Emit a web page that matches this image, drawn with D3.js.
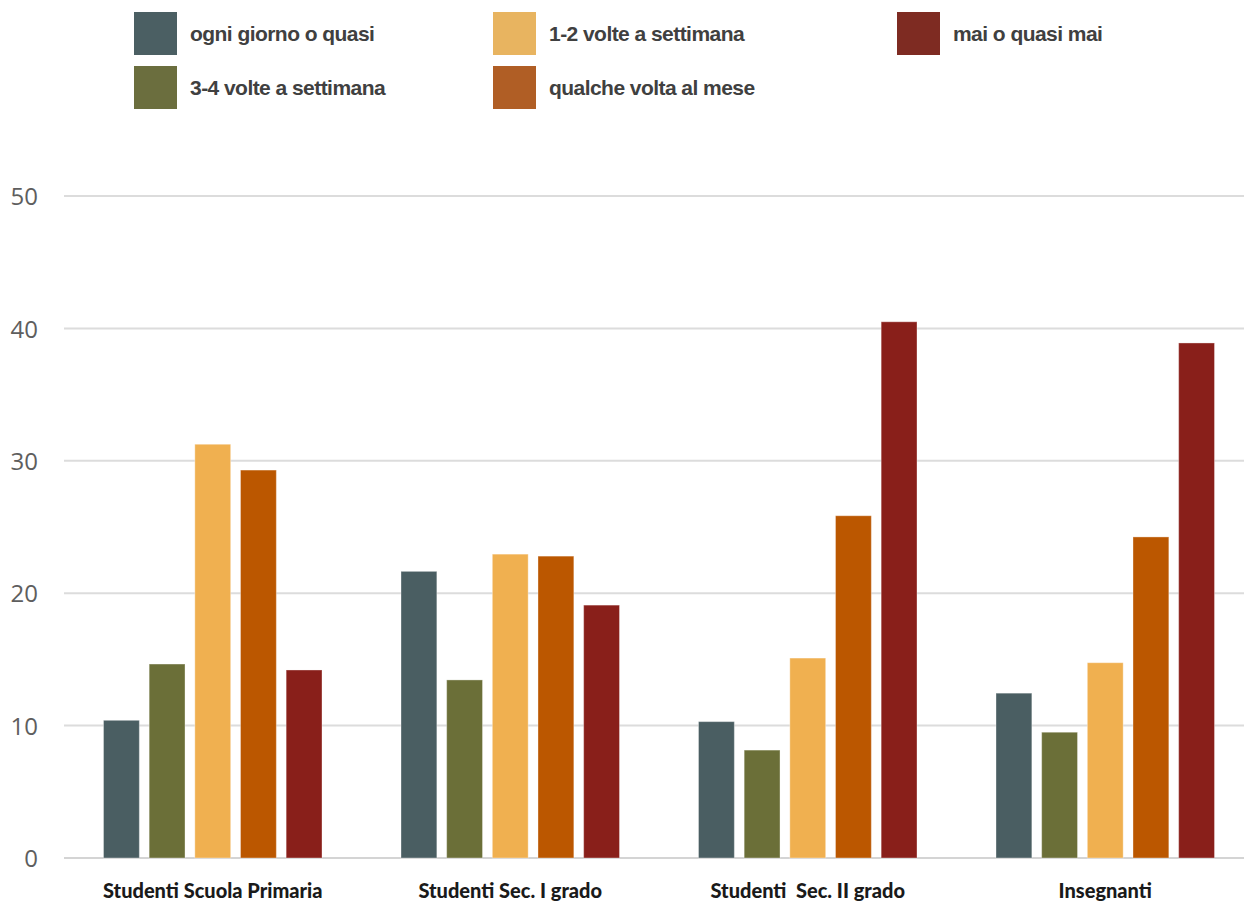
<!DOCTYPE html>
<html>
<head>
<meta charset="utf-8">
<script src="https://cdn.jsdelivr.net/npm/d3@7"></script>
<style>
  html, body { margin: 0; padding: 0; background: #ffffff; }
  svg { display: block; }
</style>
</head>
<body>
<script>
// Frequency of use by group (percentages)
const categories = ["Studenti Scuola Primaria", "Studenti Sec. I grado", "Studenti  Sec. II grado", "Insegnanti"];
const seriesNames = ["ogni giorno o quasi", "3-4 volte a settimana", "1-2 volte a settimana", "qualche volta al mese", "mai o quasi mai"];
const ogniGiorno   = [10.4, 21.65, 10.3, 12.45];
const treQuattro   = [14.65, 13.45, 8.15, 9.5];
const unoDue       = [31.25, 22.95, 15.1, 14.75];
const qualcheVolta = [29.3, 22.8, 25.85, 24.25];
const maiQuasiMai  = [14.2, 19.1, 40.5, 38.9];
const yTicks = [0, 10, 20, 30, 40, 50];

const barColors    = ["#4a5e62", "#6b6f38", "#f0b050", "#bb5700", "#891f1a"];
const legendColors = ["#4b5f63", "#6b6e3e", "#e8b460", "#b05e25", "#7e2b22"];

const seriesValues = [ogniGiorno, treQuattro, unoDue, qualcheVolta, maiQuasiMai];

const W = 1244, H = 903;
const svg = d3.select("body").append("svg").attr("width", W).attr("height", H);

const x0 = d3.scaleBand().domain(categories).range([64, 1254]).paddingInner(0).paddingOuter(0);
const x1 = d3.scaleBand().domain(d3.range(seriesNames.length))
  .range([39.5, x0.bandwidth() - 39.5]).paddingInner(0.215).paddingOuter(0);
const y = d3.scaleLinear().domain([0, 50]).range([858, 196]);

// gridlines
svg.append("g").selectAll("line").data(yTicks).join("line")
  .attr("x1", 64).attr("x2", W)
  .attr("y1", d => y(d)).attr("y2", d => y(d))
  .attr("stroke", d => d === 0 ? "#d4d4d4" : "#dcdcdc")
  .attr("stroke-width", 2);

// y axis labels
const yAxis = d3.axisLeft(y).tickValues(yTicks).tickSize(0).tickPadding(0);
const gy = svg.append("g").attr("transform", "translate(38,0)").call(yAxis);
gy.select(".domain").remove();
gy.selectAll("text")
  .attr("fill", "#5e5e5e")
  .style("font-family", "'Open Sans', sans-serif")
  .style("font-size", "24px")
  .attr("dy", "0.36em");

// bars
const groups = svg.append("g").selectAll("g").data(categories).join("g")
  .attr("transform", d => `translate(${x0(d)},0)`);
groups.selectAll("rect")
  .data((c, ci) => seriesValues.map((vals, si) => ({ si, v: vals[ci] })))
  .join("rect")
  .attr("x", d => x1(d.si))
  .attr("width", x1.bandwidth())
  .attr("y", d => y(d.v))
  .attr("height", d => y(0) - y(d.v))
  .attr("fill", d => barColors[d.si])
  .attr("stroke", "rgba(255,255,255,0.35)")
  .attr("stroke-width", 1);

// category labels
const xAxis = d3.axisBottom(x0).tickSize(0).tickPadding(0);
const gx = svg.append("g").attr("transform", "translate(0,898)").call(xAxis);
gx.select(".domain").remove();
gx.selectAll("text")
  .attr("fill", "#1a1a1a")
  .attr("dy", "0")
  .attr("y", 0)
  .style("white-space", "pre")
  .style("font-family", "Lato, sans-serif")
  .style("font-weight", "900")
  .style("font-size", "20px");

// legend
const legendPos = [[134, 12], [134, 66], [493, 12], [493, 66], [897, 12]];
const lg = svg.append("g").selectAll("g").data(seriesNames).join("g")
  .attr("transform", (d, i) => `translate(${legendPos[i][0]},${legendPos[i][1]})`);
lg.append("rect").attr("width", 43).attr("height", 43)
  .attr("fill", (d, i) => legendColors[i]);
lg.append("text")
  .attr("x", 56).attr("y", 29)
  .attr("fill", "#404040")
  .style("font-family", "'Liberation Sans', Arial, sans-serif")
  .style("font-weight", "bold")
  .style("font-size", "21px")
  .style("letter-spacing", "-0.55px")
  .text(d => d);
</script>
</body>
</html>
